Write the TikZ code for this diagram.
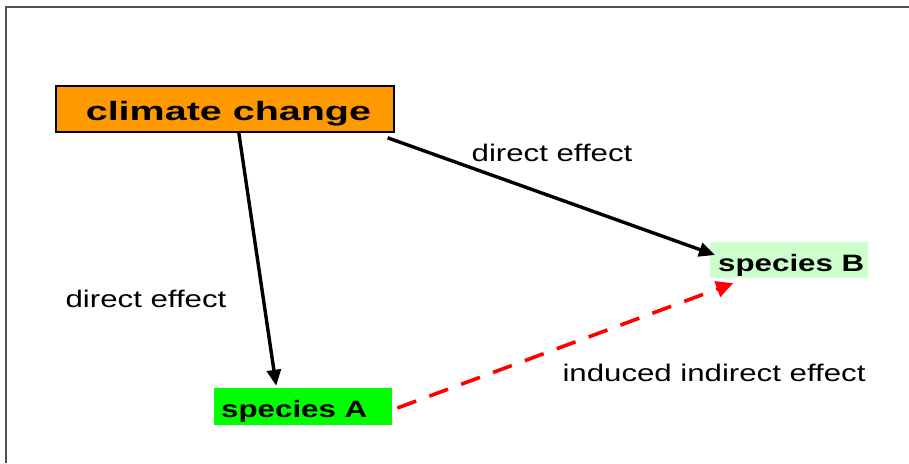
\documentclass[tikz,border=0pt]{standalone}
\usepackage{fontspec}
\usetikzlibrary{arrows.meta}
\newfontfamily\labfont[FakeStretch=1.3]{Liberation Sans}
\newfontfamily\spfont[FakeStretch=1.32]{Liberation Sans}
\newfontfamily\ccfont[FakeStretch=1.49]{Liberation Sans}
\definecolor{ccorange}{RGB}{255,153,0}
\definecolor{lightgr}{RGB}{204,255,204}
\definecolor{brightgr}{RGB}{0,255,0}
\definecolor{framegray}{RGB}{80,80,80}
\tikzset{
  boxnode/.style={inner sep=0pt, anchor=base west},
  lab/.style={anchor=base, inner sep=0pt, font=\labfont\fontsize{24pt}{28pt}\selectfont},
  blackarrow/.style={line width=3.4pt, -{Triangle[length=16pt,width=14pt]}},
  redarrow/.style={red, line width=3.6pt, dash pattern=on 20pt off 14pt, -{Triangle[length=17pt,width=16pt]}}
}
\begin{document}
\begin{tikzpicture}[x=1pt,y=-1pt]
\useasboundingbox (0,0) rectangle (909,463);
\fill[white] (0,0) rectangle (909,463);
\draw[framegray, line width=1.6pt] (6,463) -- (6,7) -- (909,7);

\node[boxnode, fill=ccorange, draw=black, line width=1.6pt, text height=34pt, text depth=12pt,
  font=\ccfont\bfseries\fontsize{26.5pt}{30pt}\selectfont] (cc) at (55,120)
  {\makebox[338pt][l]{\hspace*{30pt}climate change}};
\node[boxnode, fill=lightgr, text height=29.7pt, text depth=6.3pt,
  font=\spfont\bfseries\fontsize{23.7pt}{28pt}\selectfont] (spB) at (710,271.7)
  {\makebox[158pt][l]{\hspace*{8pt}species B}};
\node[boxnode, fill=brightgr, text height=29.3pt, text depth=7.7pt,
  font=\spfont\bfseries\fontsize{23.7pt}{28pt}\selectfont] (spA) at (214,417.3)
  {\makebox[178pt][l]{\hspace*{7pt}species A}};

\node[lab] (l1) at (552,161) {direct effect};
\node[lab] (l2) at (146,307) {direct effect};
\node[lab] (l3) at (714,381.7) {induced indirect effect};

\draw[blackarrow] ([xshift=14pt]cc.south) -- ([xshift=-27pt,yshift=2pt]spA.north);
\draw[blackarrow] ([xshift=-7pt,yshift=-5pt]cc.south east) -- ([xshift=5pt,yshift=5pt]spB.west);
\draw[redarrow] ([xshift=5pt,yshift=-1.5pt]spA.east) -- ([xshift=-56pt,yshift=-5pt]spB.south);
\end{tikzpicture}
\end{document}
